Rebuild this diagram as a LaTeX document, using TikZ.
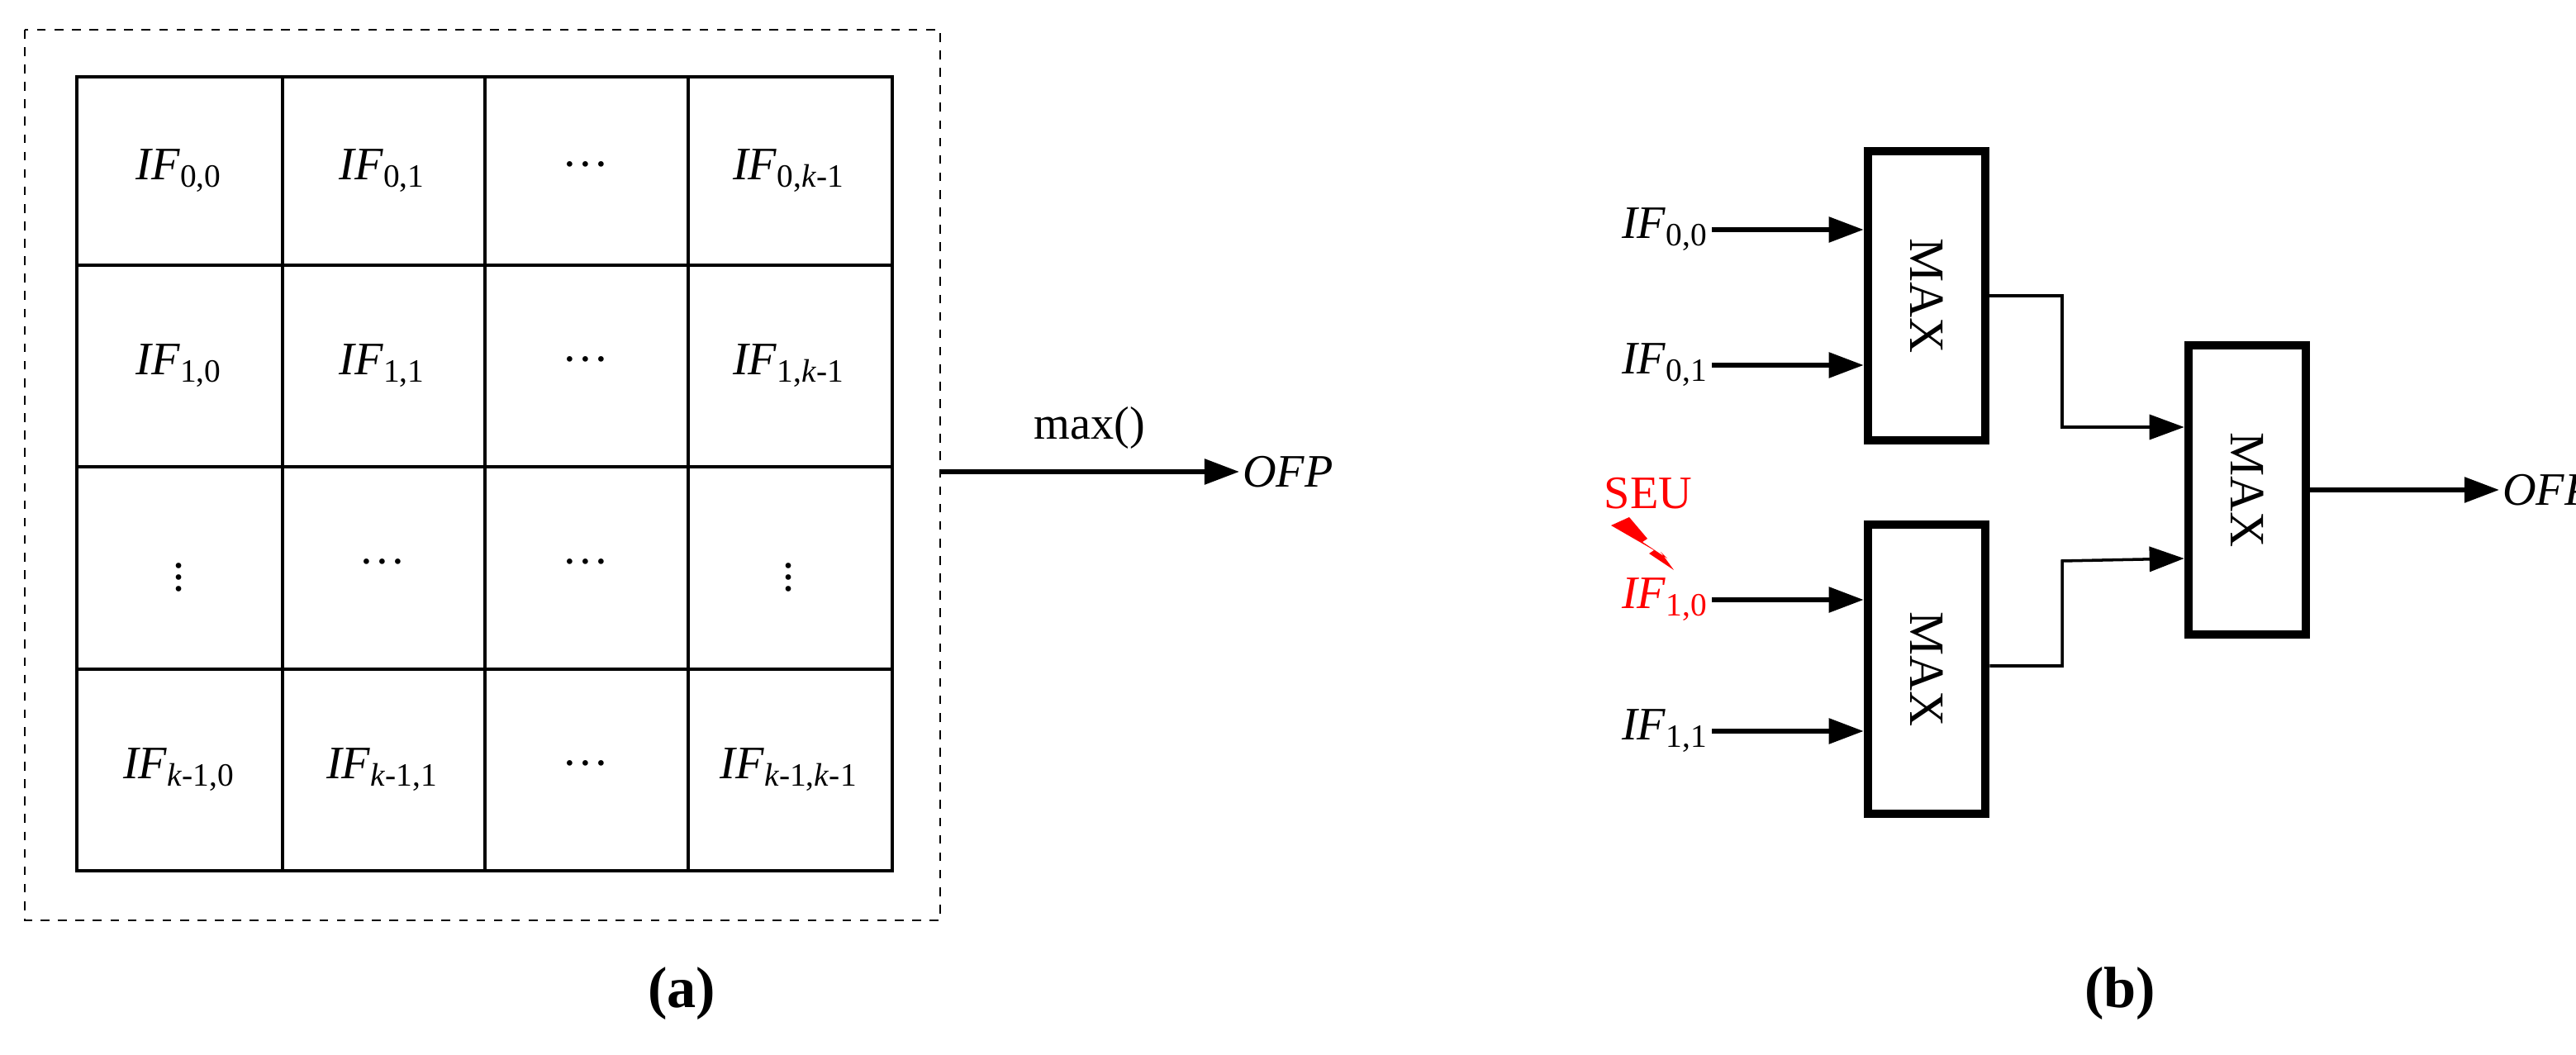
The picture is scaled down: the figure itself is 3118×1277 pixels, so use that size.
\documentclass[tikz,border=0pt]{standalone}
\usepackage{amsmath}
\usepackage{fontspec}
\setmainfont{Liberation Serif}
\usetikzlibrary{arrows.meta,positioning}

\newcommand\IF[1]{\textit{IF}\textsubscript{#1}}
\newcommand\km{\textit{k}-1}

\tikzset{
  lbl/.style={font=\fontsize{16}{19}\selectfont, inner sep=1pt},
  maxbox/.style={draw, line width=3pt, minimum width=1.42cm, minimum height=3.5cm,
    font=\fontsize{17}{20}\selectfont},
  arr/.style={line width=1.6pt, -{Triangle[length=0.42cm,width=0.3cm]}},
  wire/.style={line width=1pt, -{Triangle[length=0.42cm,width=0.3cm]}}
}

\begin{document}
\begin{tikzpicture}[x=0.01cm,y=-0.01cm]
  \useasboundingbox (0,0) rectangle (3118,1277);

  % (a) feature map
  \draw[dashed, line width=0.8pt] (30,36) rectangle (1138,1114);
  \draw[line width=1pt] (93,93) rectangle (1080,1054);
  \foreach \x in {342,587,833} \draw[line width=1pt] (\x,93) -- (\x,1054);
  \foreach \y in {321,565,810} \draw[line width=1pt] (93,\y) -- (1080,\y);

  \foreach \t [count=\i from 0] in {{\IF{0,0}},{\IF{0,1}},{···},{\IF{0,\km}}}
    \node[lbl] (c0\i) at ({217+\i*246},207) {\t};
  \foreach \t [count=\i from 0] in {{\IF{1,0}},{\IF{1,1}},{···},{\IF{1,\km}}}
    \node[lbl] (c1\i) at ({217+\i*246},443) {\t};
  \foreach \t [count=\i from 0] in {{$\vdots$},{···},{···},{$\vdots$}}
    \node[lbl] (c2\i) at ({217+\i*246},688) {\t};
  \foreach \t [count=\i from 0] in {{\IF{\km,0}},{\IF{\km,1}},{···},{\IF{\km,\km}}}
    \node[lbl] (c3\i) at ({217+\i*246},932) {\t};

  \coordinate (fmout) at (1138,571);
  \node[lbl, anchor=west] (ofpa) at (1500,571) {\textit{OFP}};
  \draw[arr] (fmout) -- node[lbl, above=6pt] {max()} (ofpa.west);
  \node[font=\fontsize{20}{24}\selectfont\bfseries] (capa) at (825,1203) {(a)};

  % (b) max tree
  \node[maxbox] (m1) at (2332,358) {\rotatebox{-90}{MAX}};
  \node[maxbox] (m2) at (2332,810) {\rotatebox{-90}{MAX}};
  \node[maxbox] (m3) at (2720,593) {\rotatebox{-90}{MAX}};

  \node[lbl, anchor=east] (i00) at (2072,278) {\IF{0,0}};
  \node[lbl, anchor=east] (i01) at (2072,442) {\IF{0,1}};
  \node[lbl, anchor=east, text=red] (i10) at (2072,726) {\IF{1,0}};
  \node[lbl, anchor=east] (i11) at (2072,885) {\IF{1,1}};
  \node[lbl, text=red] (seu) at (1995,597) {SEU};
  \fill[red] (1950,636) -- (1972,626) -- (1994,652) -- (1988,656) -- (2018,676)
    -- (2010,668) -- (2026,690) -- (1996,670) -- (2002,666) -- cycle;

  \draw[arr] (i00.east) -- (i00.east -| m1.west);
  \draw[arr] (i01.east) -- (i01.east -| m1.west);
  \draw[arr] (i10.east) -- (i10.east -| m2.west);
  \draw[arr] (i11.east) -- (i11.east -| m2.west);

  \coordinate (j1) at (2496,358);
  \coordinate (j2) at (2496,806);
  \draw[wire] (m1.east) -- (j1) |- (m3.west |- 0,517);
  \draw[wire] (m2.east |- j2) -- (j2) -- (2496,679) -- (m3.west |- 0,676);
  \node[lbl, anchor=west] (ofpb) at (3025,593) {\textit{OFP}};
  \draw[arr] (m3.east) -- (ofpb.west);
  \node[font=\fontsize{20}{24}\selectfont\bfseries] (capb) at (2566,1203) {(b)};
\end{tikzpicture}
\end{document}
